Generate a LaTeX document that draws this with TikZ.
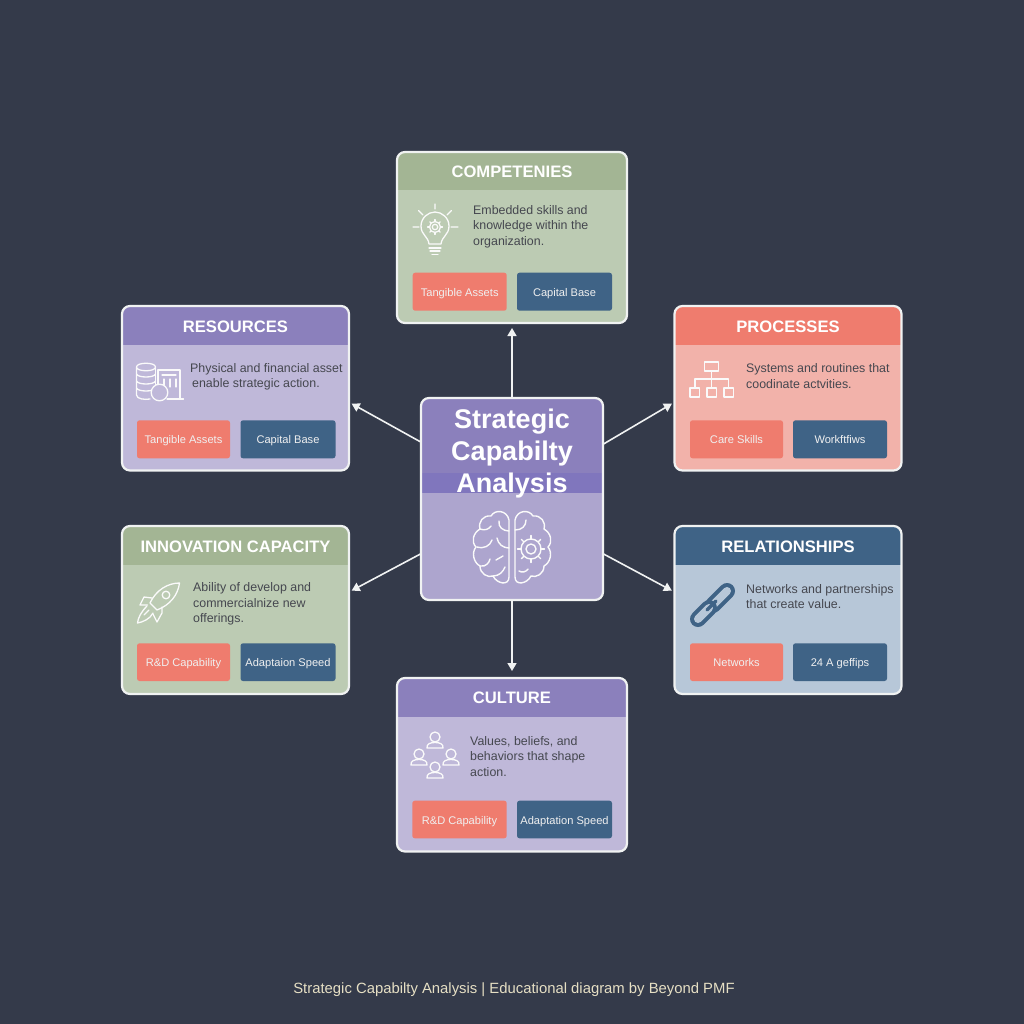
\documentclass[tikz,border=0pt]{standalone}
\usepackage{fontspec}
\setmainfont{Liberation Sans}
\usetikzlibrary{arrows.meta}
\definecolor{bgc}{HTML}{343A4A}
\definecolor{edgec}{HTML}{F0F2F2}
\definecolor{greenh}{HTML}{A3B594}
\definecolor{greenb}{HTML}{BCCBB3}
\definecolor{purpleh}{HTML}{8B80BC}
\definecolor{purpleb}{HTML}{BFB8D9}
\definecolor{coralh}{HTML}{EF7C6E}
\definecolor{coralb}{HTML}{F2B2AA}
\definecolor{blueh}{HTML}{3F6386}
\definecolor{blueb}{HTML}{B7C7D8}
\definecolor{centerb}{HTML}{ADA5CE}
\definecolor{bandc}{HTML}{7C72BE}
\definecolor{inkc}{HTML}{45474F}
\definecolor{footc}{HTML}{E6DFC4}
\tikzset{
 x=1pt,y=-1pt,
 cardbox/.style={draw=edgec,line width=2.2pt,rounded corners=8pt,inner sep=0pt,outer sep=0pt},
 cardtitle/.style={text=white,font=\fontsize{16.6}{20}\selectfont\bfseries,inner sep=0pt},
 desctext/.style={text=inkc,font=\fontsize{12.4}{15.3}\selectfont,align=left,anchor=west,inner sep=0pt},
 chipbox/.style={rounded corners=2.5pt,inner sep=0pt,text=white!94!black,font=\fontsize{11.1}{14}\selectfont},
 chipcoral/.style={chipbox,fill=coralh},
 chipblue/.style={chipbox,fill=blueh},
 flow/.style={draw=edgec,line width=1.6pt,-{Triangle[length=8pt,width=9pt]}},
 iconline/.style={draw=white!96!gray,line width=1.3pt,line cap=round,line join=round},
 brainline/.style={draw=white!96!gray,line width=1.4pt,line cap=round,line join=round},
}
% name x1 y1 x2 y2 headerbottom head body title
\newcommand{\mkcard}[9]{%
 \node[cardbox,fill=#8,minimum width={(#4-#2)*1pt},minimum height={(#5-#3)*1pt},
  path picture={\fill[#7,sharp corners] (path picture bounding box.north west) rectangle ([yshift={-(#6-#3)*1pt}]path picture bounding box.north east);}]
  (#1) at ({(#2+#4)/2},{(#3+#5)/2}) {};
 \node[cardtitle] (#1title) at ({(#2+#4)/2},{(#3+#6)/2+1}) {#9};
}
\newcommand{\mkchip}[7]{\node[#6,minimum width={(#4-#2)*1pt},minimum height={(#5-#3)*1pt}] (#1) at ({(#2+#4)/2},{(#3+#5)/2}) {\raisebox{-4.5pt}[0pt][0pt]{#7}};}
\newcommand{\mkdesc}[4]{\node[desctext] (#1) at (#2,#3) {#4};}
\newcommand{\mkgear}[4]{% x y r style
 \draw[#4] (#1,#2) circle ({#3*0.5*1pt});
 \draw[#4] (#1,#2) circle ({#3*1pt});
 \foreach \a in {0,45,...,315} \draw[#4] ([shift={(#1,#2)}]\a:#3) -- ([shift={(#1,#2)}]\a:{#3*1.35});
}
\newcommand{\mkperson}[2]{% x y
 \draw[iconline] (#1,#2) circle (5pt);
 \draw[iconline] (#1-8,#2+11) .. controls (#1-8.5,#2+7) and (#1-5,#2+5.5) .. (#1,#2+5.5) .. controls (#1+5,#2+5.5) and (#1+8.5,#2+7) .. (#1+8,#2+11) -- cycle;
}
\begin{document}
\begin{tikzpicture}
\useasboundingbox (0,0) rectangle (1024,1024);
\fill[bgc] (0,0) rectangle (1024,1024);

% centre
\node[cardbox,fill=centerb,minimum width=182pt,minimum height=202pt,
 path picture={
  \fill[purpleh,sharp corners] (path picture bounding box.north west) rectangle ([yshift=-95pt]path picture bounding box.north east);
  \fill[bandc!75!purpleh,sharp corners] ([yshift=-75pt]path picture bounding box.north west) rectangle ([yshift=-95pt]path picture bounding box.north east);
 }] (center) at (512,499) {};
\node[text=white,font=\fontsize{27}{32}\selectfont\bfseries,align=center,inner sep=0pt] (centertitle) at (512,454) {Strategic\\Capabilty\\Analysis};
% brain
\begin{scope}
\draw[brainline] (509,520) .. controls (507,510) and (495,509) .. (491,516) .. controls (483,515) and (478,522) .. (480,529) .. controls (473,533) and (471,542) .. (476,547) .. controls (471,553) and (474,563) .. (480,566) .. controls (480,574) and (488,578) .. (493,576) .. controls (497,584) and (509,586) .. (509,577) -- cycle;
\draw[brainline] (509,531) .. controls (503,531) and (498,527) .. (499,521);
\draw[brainline] (480,529) .. controls (485,531) and (489,529) .. (491,526);
\draw[brainline] (477,547) .. controls (484,549) and (490,546) .. (492,540);
\draw[brainline] (509,548) .. controls (503,548) and (498,544) .. (497,538);
\draw[brainline] (480,566) .. controls (486,567) and (489,563) .. (490,559);
\draw[brainline] (493,576) .. controls (499,576) and (503,572) .. (505,567);
\draw[brainline] (496,560) -- (503,556);
\draw[brainline] (515,520) .. controls (517,510) and (529,509) .. (533,516) .. controls (541,515) and (546,522) .. (544,529) .. controls (551,533) and (553,542) .. (548,547) .. controls (553,553) and (550,563) .. (544,566) .. controls (544,574) and (536,578) .. (531,576) .. controls (527,584) and (515,586) .. (515,577) -- cycle;
\draw[brainline] (515,530) .. controls (522,530) and (526,526) .. (526,520);
\draw[brainline] (519,571) .. controls (522,573) and (526,572) .. (528,569);
\mkgear{531}{549}{10}{brainline}
\end{scope}

% cards
\mkcard{comp}{397}{152}{627}{323}{190.5}{greenh}{greenb}{COMPETENIES}
\mkcard{res}{122}{306}{349}{470.5}{345}{purpleh}{purpleb}{RESOURCES}
\mkcard{proc}{674.5}{306}{901.5}{470.5}{345}{coralh}{coralb}{PROCESSES}
\mkcard{innov}{122}{526}{349}{694}{565}{greenh}{greenb}{INNOVATION CAPACITY}
\mkcard{rel}{674.5}{526}{901.5}{694}{565}{blueh}{blueb}{RELATIONSHIPS}
\mkcard{cult}{397}{678}{627}{851.5}{716.5}{purpleh}{purpleb}{CULTURE}

% descriptions
\mkdesc{compd}{473}{226.5}{Embedded skills and\\knowledge within the\\organization.}
\mkdesc{resd}{190}{376.5}{Physical and financial asset\\\hspace*{2pt}enable strategic action.}
\mkdesc{procd}{746}{376}{Systems and routines that\\coodinate actvities.}
\mkdesc{innovd}{193}{604}{Ability of develop and\\commercialnize new\\offerings.}
\mkdesc{reld}{746}{596.5}{Networks and partnerships\\that create value.}
\mkdesc{cultd}{470}{756.5}{Values, beliefs, and\\behaviors that shape\\action.}

% chips
\mkchip{compa}{412.7}{272.7}{506.7}{310.7}{chipcoral}{Tangible Assets}
\mkchip{compb}{517}{272.7}{612}{310.7}{chipblue}{Capital Base}
\mkchip{resa}{137}{420.3}{230}{458.3}{chipcoral}{Tangible Assets}
\mkchip{resb}{240.5}{420.3}{335.5}{458.3}{chipblue}{Capital Base}
\mkchip{proca}{690}{420.3}{783}{458.3}{chipcoral}{Care Skills}
\mkchip{procb}{793}{420.3}{887}{458.3}{chipblue}{Workftfiws}
\mkchip{innova}{137}{643.3}{230}{681}{chipcoral}{R\&D Capability}
\mkchip{innovb}{240.5}{643.3}{335.5}{681}{chipblue}{Adaptaion Speed}
\mkchip{rela}{690}{643.3}{783}{681}{chipcoral}{Networks}
\mkchip{relb}{793}{643.3}{887}{681}{chipblue}{24 A geffips}
\mkchip{culta}{412.3}{800.7}{506.7}{838.3}{chipcoral}{R\&D Capability}
\mkchip{cultb}{517}{800.7}{612}{838.3}{chipblue}{Adaptation Speed}

% connectors
\draw[flow,shorten >=5pt] (center.north) -- (comp.south);
\draw[flow,shorten >=7pt] (center.south) -- (cult.north);
\draw[flow,shorten >=3pt] (center.148.4) -- (res.-7.5);
\draw[flow,shorten >=3pt] (center.31.6) -- (proc.187.5);
\draw[flow,shorten >=3pt] (center.211.1) -- (innov.9.5);
\draw[flow,shorten >=3pt] (center.-31.1) -- (rel.171.4);

% bulb icon
\draw[iconline] (429,244) .. controls (428,236) and (421,235) .. (421,226) .. controls (421,218) and (428,212) .. (435,212) .. controls (442,212) and (449,218) .. (449,226) .. controls (449,235) and (442,236) .. (441,244) -- cycle;
\draw[iconline] (429,248) -- (441,248) (430,251) -- (440,251) (432,254.5) -- (438,254.5);
\draw[iconline] (435,204) -- (435,209) (413,227) -- (419,227) (451,227) -- (458,227) (418.5,210.5) -- (423,215) (447,215) -- (451.5,210.5);
\mkgear{435}{227}{5.5}{iconline}

% database and building icon
\draw[iconline] (136.5,367) .. controls (136.5,362) and (155.5,362) .. (155.5,367) .. controls (155.5,372) and (136.5,372) .. (136.5,367) -- (136.5,395) .. controls (136.5,399) and (145,400) .. (150,399);
\draw[iconline] (155.5,367) -- (155.5,387);
\foreach \yy in {374,381,388} \draw[iconline] (136.5,\yy) .. controls (138,\yy+4) and (154,\yy+4) .. (155.5,\yy);
\draw[iconline] (158,387) -- (158,370) -- (180,370) -- (180,398);
\draw[iconline] (162,375) -- (176,375) (164,379) -- (164,387) (170,379) -- (170,387) (176,379) -- (176,387);
\draw[iconline] (167,399) -- (183.5,399);
\draw[iconline,fill=purpleb] (159.5,392.5) circle (8.3pt);

% org chart icon
\draw[iconline] (704.5,362) rectangle (718.5,371) (690,388) rectangle (699.5,397) (707,388) rectangle (716.5,397) (724,388) rectangle (733.5,397);
\draw[iconline] (711.5,371) -- (711.5,388) (695,388) -- (695,379) -- (728.5,379) -- (728.5,388);

% rocket icon
\draw[iconline] (179.5,583) .. controls (168,583) and (156,590) .. (150,603) -- (157,610) .. controls (170,605) and (178,595) .. (179.5,583) -- cycle;
\draw[iconline] (166,595) circle (3.8pt);
\draw[iconline] (152,598) -- (144,597) -- (140,605) -- (147.5,605);
\draw[iconline] (162,607) -- (162,613) -- (157,622) -- (153,614);
\draw[iconline] (147,606) .. controls (141,612) and (138,618) .. (137.5,623) .. controls (143,622) and (150,619) .. (153,613);
\draw[iconline] (144,615) -- (149,610);

% chain icon
\draw[blueh,line width=16pt,line cap=round] (727,591) -- (713,605);
\draw[blueb,line width=8pt,line cap=round] (727,591) -- (713,605);
\draw[blueh,line width=16pt,line cap=round] (698,619) -- (709,608);
\draw[blueb,line width=8pt,line cap=round] (698,619) -- (709,608);
\draw[blueh,line width=3.5pt,line cap=round] (707,610) -- (716,601);

% people icon
\mkperson{435}{737}
\mkperson{419}{754}
\mkperson{451}{754}
\mkperson{435}{767}

\node[text=footc,font=\fontsize{14.85}{16}\selectfont,inner sep=0pt] (footer) at (514,990) {Strategic Capabilty Analysis | Educational diagram by Beyond PMF};
\end{tikzpicture}
\end{document}
